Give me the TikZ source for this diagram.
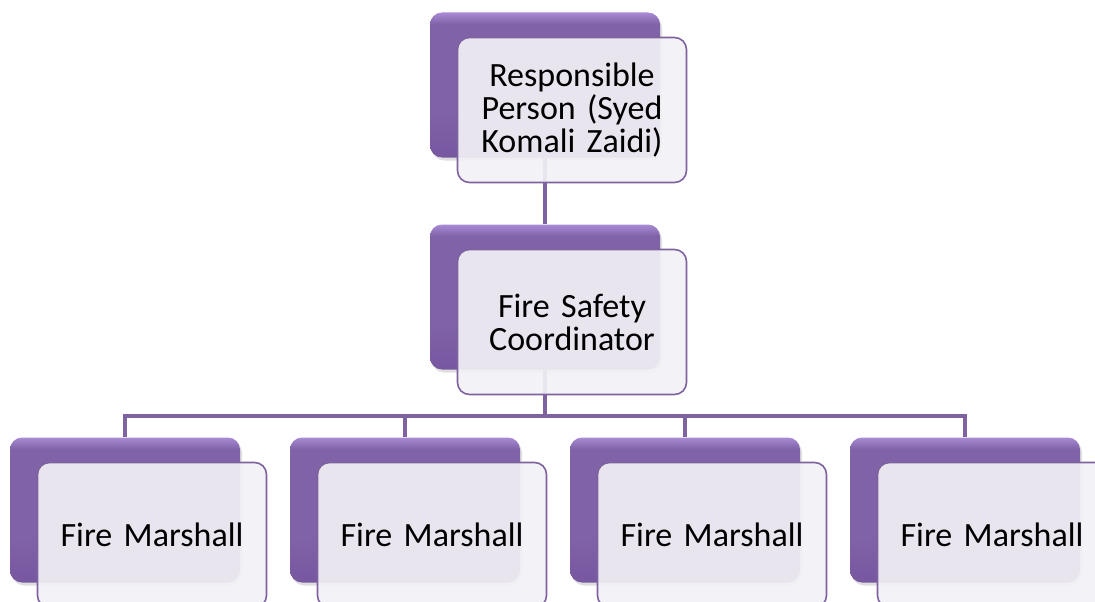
\documentclass[tikz,border=0pt]{standalone}
\usepackage{fontspec}
\setmainfont{Carlito}[WordSpace=0.8]
\usetikzlibrary{backgrounds,shadows}

\definecolor{boxtop}{HTML}{A98BD6}
\definecolor{boxmain}{HTML}{8062A8}
\definecolor{boxlow}{HTML}{7757A0}
\definecolor{boxline}{HTML}{7E63A0}
\definecolor{cardfill}{HTML}{F2F1F5}

\pgfdeclareverticalshading{boxshade}{100bp}{
  color(0bp)=(boxlow); color(25bp)=(boxlow); color(40bp)=(boxmain);
  color(71bp)=(boxmain); color(75bp)=(boxtop); color(100bp)=(boxtop)}

\tikzset{
  backbox/.style={rounded corners=12pt, minimum width=230pt, minimum height=145pt,
    shading=boxshade,
    drop shadow={opacity=0.25, shadow xshift=2pt, shadow yshift=-3pt}},
  card/.style={rounded corners=12pt, minimum width=229pt, minimum height=145pt,
    draw=boxline, line width=1.6pt, fill=cardfill, fill opacity=0.92, text opacity=1,
    align=center, text width=215pt, font=\fontsize{34}{33}\selectfont},
  link/.style={draw=boxline, line width=4.5pt}
}

\begin{document}
\begin{tikzpicture}[x=1pt,y=1pt,yscale=-1]
\useasboundingbox (0,0) rectangle (1095,602);

% Top level
\node[backbox] (rpBack) at (545,85) {};
\node[card] (rp) at (572,110) {Responsible\\Person (Syed\\Komali Zaidi)};

% Coordinator
\node[backbox] (fscBack) at (545,297) {};
\node[card] (fsc) at (572,322) {Fire Safety\\Coordinator};

% Marshalls
\node[backbox] (fm1Back) at (125,510) {};
\node[card] (fm1) at (152,535) {Fire Marshall};
\node[backbox] (fm2Back) at (405,510) {};
\node[card] (fm2) at (432,535) {Fire Marshall};
\node[backbox] (fm3Back) at (685,510) {};
\node[card] (fm3) at (712,535) {Fire Marshall};
\node[backbox] (fm4Back) at (965,510) {};
\node[card] (fm4) at (992,535) {Fire Marshall};

% Links
\coordinate (bar) at (545,416);
\begin{pgfonlayer}{background}
\draw[link] (rpBack.south) -- (fscBack.north);
\draw[link] (fscBack.south) -- (bar);
\foreach \m in {fm1Back,fm2Back,fm3Back,fm4Back}
  \draw[link] (bar) -| (\m.north);
\end{pgfonlayer}

\end{tikzpicture}
\end{document}
